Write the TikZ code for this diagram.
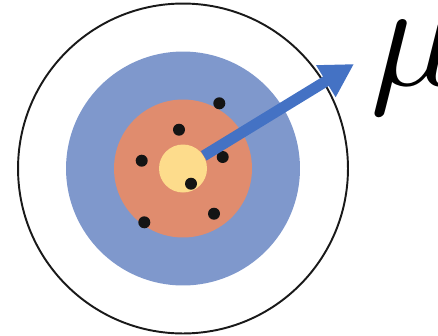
\documentclass[tikz,border=0pt]{standalone}
\usepackage{xcolor}
\usepackage{tikz}
\usetikzlibrary{arrows.meta,positioning,calc}
\definecolor{ringblue}{HTML}{7F98CC}
\definecolor{ringorange}{HTML}{E08C6E}
\definecolor{ringyellow}{HTML}{FDDC8C}
\definecolor{arrowblue}{HTML}{4472C4}
\tikzset{
  ring/.style={circle, fill=#1, draw=none, minimum size=1cm, inner sep=0pt},
  rim/.style={circle, draw=black!90, line width=1.1pt, inner sep=0pt},
  shot/.style={circle, fill=black!92, minimum size=#1, inner sep=0pt},
  shot/.default=0.24cm,
  meanarrow/.style={draw=arrowblue, line width=0.22cm,
                    -{Triangle[length=0.66cm, width=0.70cm]}},
}
\begin{document}
\begin{tikzpicture}[x=0.02cm, y=-0.02cm]
  \useasboundingbox (0,0) rectangle (438,335);
  \node[rim, minimum size=6.60cm] (outer) at (183,168.5) {};
  \node[ring=ringblue, minimum size=4.68cm] (blue) at (183,168.5) {};
  \node[ring=ringorange, minimum size=2.76cm] (orange) at (183,168.5) {};
  \node[ring=ringyellow, minimum size=0.96cm] (yel) at (183,168.5) {};
  \foreach \x/\y [count=\i] in
      {219.3/103.3, 179/129.7, 141.7/160.7, 222.7/157,
       191/183.7, 214/213.7, 144.3/222.3} {
    \node[shot] (p\i) at (\x,\y) {};
  }
  \coordinate (tip) at (354,64);
  \draw[meanarrow] (yel) -- (tip);
  \node[anchor=base west, scale=8.5, inner sep=0pt] (mu) at (368,85) {$\mu$};
\end{tikzpicture}
\end{document}
